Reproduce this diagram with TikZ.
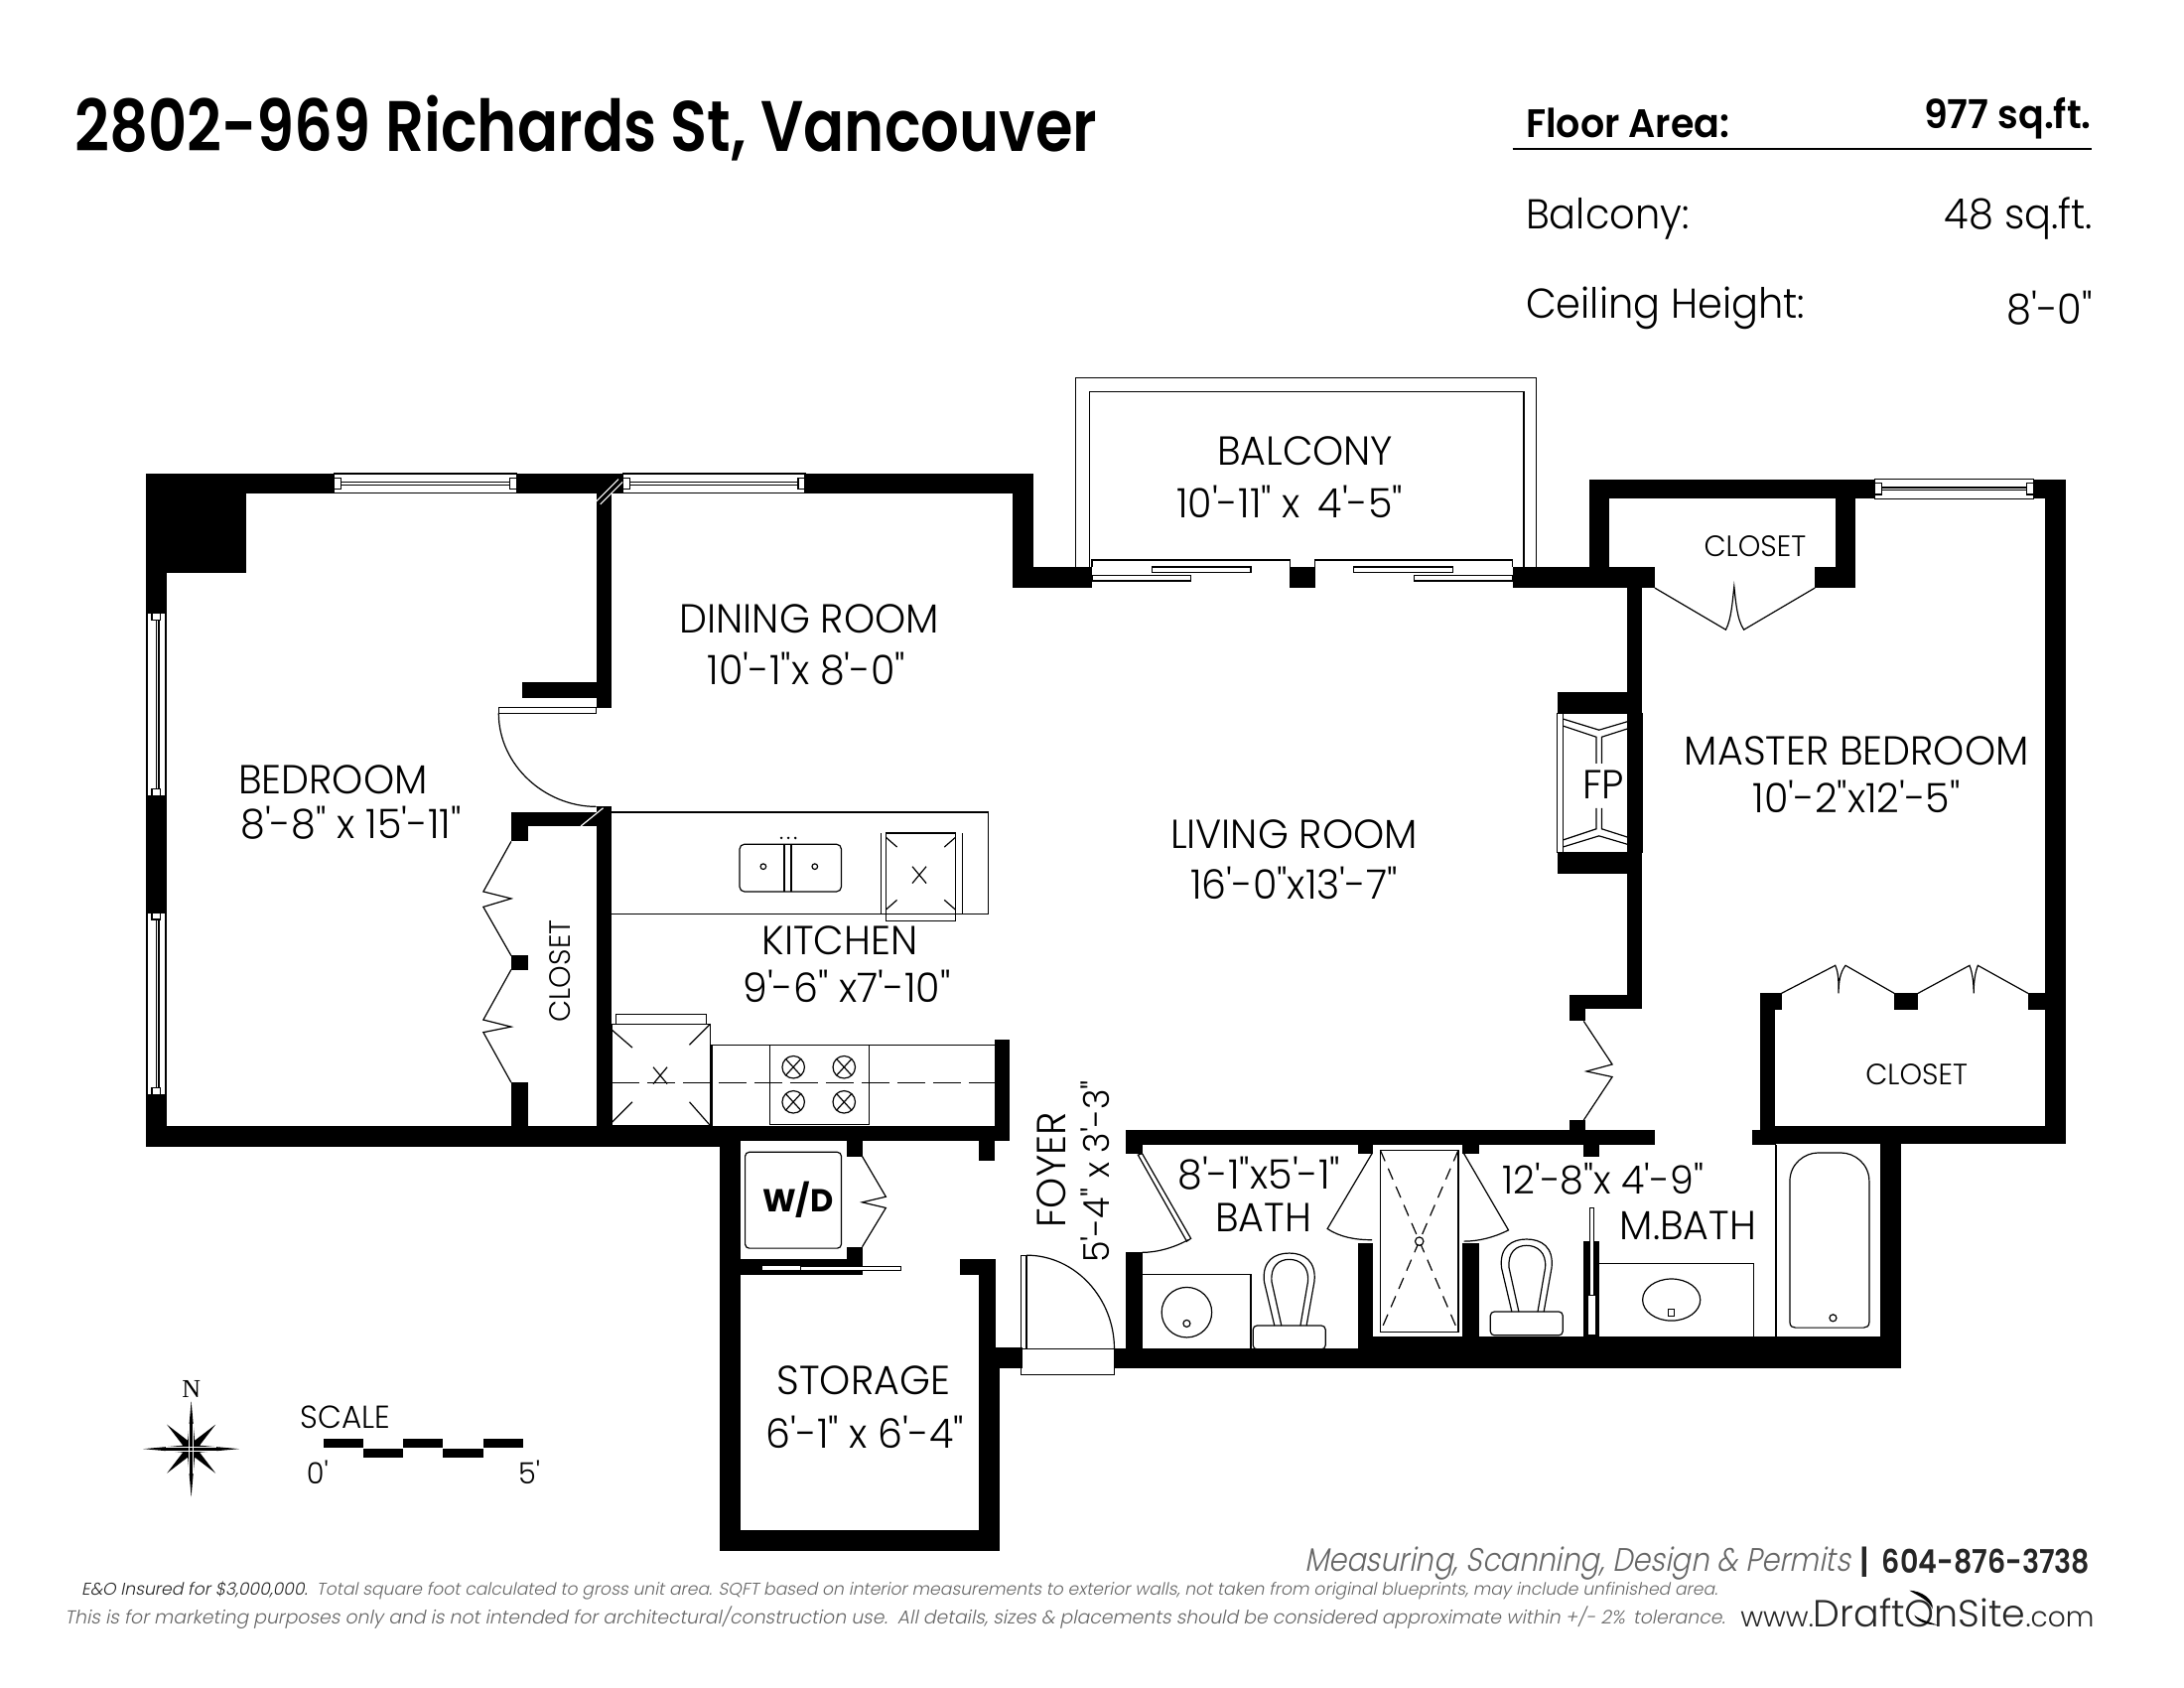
\documentclass[tikz,border=0pt]{standalone}
\usepackage{fontspec}
\setmainfont{Poppins}
\newfontfamily\titlefont[FakeStretch=0.845]{Poppins SemiBold}
\newfontfamily\headfont[FakeStretch=0.95]{Poppins SemiBold}
\newfontfamily\phonefont[FakeStretch=0.87]{Poppins SemiBold}
\newfontfamily\infofont[FakeStretch=0.95]{Poppins Light}
\newfontfamily\roomfont[FakeStretch=0.97]{Poppins Light}
\newfontfamily\tradesfont[FakeStretch=0.88,FakeSlant=0.2]{Poppins Light}
\newfontfamily\finefont[FakeSlant=0.2]{Poppins Light}
\newfontfamily\webfont{Poppins Light}
\newfontfamily\northfont{Liberation Serif}

\newcommand{\hwindow}[3]{
\draw[fixture, fill=white] (#1,#3) rectangle (#2,#3+14);
\draw[fixture] (#1,#3+6) -- (#2,#3+6) (#1,#3+8) -- (#2,#3+8);
\draw[fixture, fill=white] (#1,#3+3) rectangle (#1+5,#3+11);
\draw[fixture, fill=white] (#2-5,#3+3) rectangle (#2,#3+11);
}
\newcommand{\vwindow}[2]{
\draw[fixture, fill=white] (106,#1) rectangle (119,#2);
\draw[fixture] (112,#1) -- (112,#2) (114,#1) -- (114,#2);
\draw[fixture, fill=white] (109,#1) rectangle (115,#1+5);
\draw[fixture, fill=white] (109,#2-5) rectangle (115,#2);
}

\begin{document}
\begin{tikzpicture}[
x=0.35077pt, y=-0.35077pt,
wall/.style={fill=black},
fixture/.style={draw=black, line width=0.3pt},
room/.style={font=\roomfont\fontsize{10.2}{12}\selectfont, inner sep=0pt},
small room/.style={font=\roomfont\fontsize{7.4}{9}\selectfont, inner sep=0pt},
info/.style={font=\infofont\fontsize{10.5}{12}\selectfont, inner sep=0pt},
toilet/.pic={
	\draw[fixture, rounded corners=1pt] (-26,51.5) rectangle (26,68.5);
	\draw[fixture] (-10.6,51.5) -- (-18,20) .. controls (-19.6,5) and (-10.6,-0.5) .. (0,-0.5) .. controls (10.6,-0.5) and (19.6,5) .. (18,20) -- (12.4,51.5);
	\draw[fixture] (-5.6,51.5) -- (-12.6,20) .. controls (-13.6,9) and (-7.6,4) .. (0,4) .. controls (7.6,4) and (14.4,9) .. (13.4,20) -- (8,51.5);
},
]
\useasboundingbox (0,0) rectangle (1568,1211.6);

% walls, bedroom and dining side
\fill[wall] (105,340) rectangle (742,354);
\fill[wall] (105,340) rectangle (177,411);
\fill[wall] (105,340) rectangle (120,823);
\fill[wall] (105,808) rectangle (517,823);
\fill[wall] (517,808) rectangle (725,819);
\fill[wall] (428,354) rectangle (439,508);
\fill[wall] (375,490) rectangle (428,501);
\fill[wall] (367,583) rectangle (428,593);
\fill[wall] (367,583) rectangle (379,604);
\fill[wall] (428,579) rectangle (439,808);
\fill[wall] (367,686) rectangle (379,696);
\fill[wall] (367,777) rectangle (379,808);
\fill[wall] (714,746) rectangle (725,819);
\fill[wall] (727,340) rectangle (742,422);
\fill[wall] (727,407) rectangle (784,422);
\fill[wall] (926,407) rectangle (944,422);
\fill[wall] (1086,407) rectangle (1188,422);
% walls, master bedroom
\fill[wall] (1141,344) rectangle (1155,407);
\fill[wall] (1141,344) rectangle (1483,358);
\fill[wall] (1318,358) rectangle (1332,408);
\fill[wall] (1303,407) rectangle (1332,422);
\fill[wall] (1168,422) rectangle (1179,724);
\fill[wall] (1118,497) rectangle (1179,512);
\fill[wall] (1118,612) rectangle (1179,627);
\fill[wall] (1127,714) rectangle (1179,724);
\fill[wall] (1127,714) rectangle (1138,733);
\fill[wall] (1127,804) rectangle (1138,811);
\fill[wall] (1468,344) rectangle (1483,821);
\fill[wall] (1264,713) rectangle (1279,725);
\fill[wall] (1264,713) rectangle (1274.5,822);
\fill[wall] (1360,713) rectangle (1377,725);
\fill[wall] (1456,713) rectangle (1468,725);
\fill[wall] (1264,808) rectangle (1483,821);
\fill[wall] (1258,811) rectangle (1275,822);
\fill[wall] (1350,808) rectangle (1365,982);
% walls, baths
\fill[wall] (808,811) rectangle (1188,822);
\fill[wall] (808,811) rectangle (820,828);
\fill[wall] (808,899) rectangle (820,968);
\fill[wall] (975,822) rectangle (986,828);
\fill[wall] (975,892) rectangle (986,968);
\fill[wall] (1050,822) rectangle (1062,828);
\fill[wall] (1050,892) rectangle (1062,959);
\fill[wall] (1137,822) rectangle (1148,830);
\fill[wall] (1137,891) rectangle (1148,959);
\fill[wall] (800,968) rectangle (1365,982);
\fill[wall] (986,959) rectangle (1365,982);
% walls, storage and foyer
\fill[wall] (714,967) rectangle (734,982);
\fill[wall] (703,904) rectangle (715,968);
\fill[wall] (689,904) rectangle (715,915);
\fill[wall] (703,968) rectangle (718,1113);
\fill[wall] (517,819) rectangle (532,1113);
\fill[wall] (517,1098) rectangle (718,1113);
\fill[wall] (532,904) rectangle (619,915);
\fill[wall] (608,819) rectangle (619,830);
\fill[wall] (608,895) rectangle (619,904);
\fill[wall] (703,819) rectangle (714,833);

% windows
\hwindow{240}{371}{340}
\hwindow{447}{578}{340}
\hwindow{1346}{1460}{344}
\vwindow{440}{571}
\vwindow{655}{786}
\draw[white, line width=0.3pt] (428,360) -- (444,344) (431,362) -- (447,346);
\draw[white, line width=0.3pt] (417,593) -- (433,580);

% balcony
\draw[fixture] (772,407) -- (772,271) -- (1103,271) -- (1103,407);
\draw[fixture] (782,407) -- (782,281) -- (1094,281) -- (1094,407);
\draw[fixture] (784,407) -- (784,402) -- (926,402) -- (926,407);
\draw[fixture] (944,407) -- (944,402) -- (1086,402) -- (1086,407);
\draw[fixture] (827,407) rectangle (898,411);
\draw[fixture] (784,413) rectangle (855,417);
\draw[fixture] (972,407) rectangle (1043,411);
\draw[fixture] (1015,413) rectangle (1086,417);

% doors
\draw[fixture] (358,508) rectangle (428,512);
\draw[fixture] (358,512) .. controls (358,549) and (391,579) .. (428,579);
\draw[fixture] (733,901) rectangle (737,968);
\draw[fixture] (737,901) .. controls (772,901) and (800,932) .. (800,968);
\draw[fixture] (733,968) rectangle (800,987);
\draw[fixture] (817,829) -- (820,828) -- (855,889) -- (852,891) -- cycle;
\draw[fixture] (853,890) .. controls (842,896) and (830,899) .. (820,899);
\draw[fixture] (985,828) -- (953,882) .. controls (962,888) and (973,890) .. (985,890);
\draw[fixture] (1051,828) -- (1083,883) .. controls (1073,888) and (1062,891) .. (1051,891);
\fill[white] (1140.5,930) rectangle (1145,958);
\draw[fixture, fill=white] (1141.4,867) rectangle (1144,930);
\draw[fixture, fill=white] (547,908) rectangle (575,912);
\draw[fixture, fill=white] (575,909) rectangle (647,912);

% folding doors
\draw[fixture] (367,604) -- (347,640) -- (367,645) -- (347,651) -- (367,686);
\draw[fixture] (367,696) -- (347,732) -- (367,737) -- (347,741) -- (367,777);
\draw[fixture] (619,830) -- (636,859) -- (619,863) -- (636,867) -- (619,895);
\draw[fixture] (1137,733) -- (1157.5,764) -- (1139,769) -- (1157.5,773) -- (1137,804);
\draw[fixture] (1188,422) -- (1239,452) .. controls (1243,445) and (1244,430) .. (1245,421) .. controls (1246,430) and (1247,445) .. (1252,452) -- (1303,422);
\draw[fixture] (1279,713) -- (1317.6,693) .. controls (1320,698) and (1320,705) .. (1320,713) .. controls (1320,705) and (1321,698) .. (1325,693) -- (1360,713);
\draw[fixture] (1377,713) -- (1414,693) .. controls (1416,698) and (1417,705) .. (1417,713) .. controls (1417,705) and (1418,698) .. (1420,693) -- (1456,713);

% kitchen
\draw[fixture] (439,583) -- (709.5,583) -- (709.5,656) -- (439,656);
\draw[fixture, rounded corners=1.2pt] (531,606) rectangle (604,640);
\draw[fixture] (563,606) -- (563,640) (568,606) -- (568,640);
\draw[fixture] (548,622) circle [radius=2];
\draw[fixture] (585,622) circle [radius=2];
\fill (561,601.5) circle [radius=1] (566,601.5) circle [radius=1] (571,601.5) circle [radius=1];
\draw[fixture] (636,598) rectangle (686,661);
\draw[fixture] (632.6,598) -- (632.6,656) (691,598) -- (691,656);
\draw[fixture] (655,622) -- (665,634) (665,622) -- (655,634);
\draw[fixture] (636,601) -- (644,608) (686,601) -- (678,608) (636,653) -- (644,646) (686,653) -- (678,646);
\draw[fixture] (439,735) rectangle (510,808);
\draw[fixture] (442.5,735) -- (442.5,728) -- (507,728) -- (507,735);
\draw[fixture] (439,739) -- (454,752) (510,735) -- (495,750) (439,806) -- (454,791) (510,808) -- (495,791);
\draw[fixture] (469,766) -- (479,778) (479,766) -- (469,778);
\draw[fixture] (511,808) -- (511,750) -- (714,750);
\draw[fixture] (552.5,750) rectangle (624,807);
\draw[fixture, dash pattern=on 7pt off 2pt] (439,777) -- (714,777);
\draw[fixture] (569.6,766) circle [radius=8] (606,766) circle [radius=8] (569.6,791) circle [radius=8] (606,791) circle [radius=8];
\draw[fixture] (564,760) -- (575,772) (575,760) -- (564,772) (600.5,760) -- (611.5,772) (611.5,760) -- (600.5,772);
\draw[fixture] (564,785) -- (575,797) (575,785) -- (564,797) (600.5,785) -- (611.5,797) (611.5,785) -- (600.5,797);
\draw[fixture, rounded corners=1pt] (535,827) rectangle (604,896);

% fireplace
\draw[fixture] (1118,512) rectangle (1179,612);
\draw[fixture] (1122,512) -- (1122,612) (1175,512) -- (1175,612);
\draw[fixture] (1122,516) -- (1148,524) -- (1175,516) (1122,521) -- (1146,529) -- (1146,548) (1175,521) -- (1150,529) -- (1150,548);
\draw[fixture] (1122,608) -- (1148,600) -- (1175,608) (1122,603) -- (1146,595) -- (1146,580) (1175,603) -- (1150,595) -- (1150,580);

% bath fixtures
\draw[fixture] (820,915) -- (898,915) -- (898,968);
\draw[fixture] (852,942) circle [radius=18];
\draw[fixture] (852,950) circle [radius=2.5];
\pic at (925.6,900) {toilet};
\draw[fixture, fill=white] (991,825.6) rectangle (1047,956);
\draw[fixture, densely dashed] (991,825.6) -- (1047,956) (1047,825.6) -- (991,956);
\draw[fixture, fill=white] (1019,891) circle [radius=3];
\pic at (1096,890) {toilet};
\draw[fixture] (1148,907) -- (1259,907) -- (1259,959);
\draw[fixture] (1200,933) ellipse [x radius=20.7, y radius=15];
\draw[fixture] (1198,940) rectangle (1202,945);
\draw[fixture] (1275,822) -- (1275,959);
\draw[fixture] (1285,949) -- (1285,848) .. controls (1285,835) and (1296,827.5) .. (1305,827.5) -- (1322,827.5) .. controls (1331,827.5) and (1342,835) .. (1342,848) -- (1342,949) .. controls (1342,952) and (1340,953) .. (1338,953) -- (1289,953) .. controls (1287,953) and (1285,952) .. (1285,949) -- cycle;
\draw[fixture] (1316,946) circle [radius=2.5];

% heading
\node[font=\titlefont\fontsize{18}{20}\selectfont, inner sep=0pt, anchor=west] (title) at (53,92) {2802-969 Richards St, Vancouver};
\node[font=\headfont\fontsize{10}{12}\selectfont, inner sep=0pt, anchor=west] (area) at (1095,88) {Floor Area:};
\node[font=\headfont\fontsize{10}{12}\selectfont, inner sep=0pt, anchor=east] (areaval) at (1502,85) {977 sq.ft.};
\coordinate (ruleleft) at (1086,107);
\coordinate (ruleright) at (1502,107);
\draw[line width=0.4pt] (ruleleft) -- (ruleright);
\node[info, anchor=west] (balc) at (1095,157) {Balcony:};
\node[info, anchor=east] (balcval) at (1503,157) {48 sq.ft.};
\node[info, anchor=west] (ceil) at (1095,221) {Ceiling Height:};
\node[info, anchor=east] (ceilval) at (1503,221) {8'-0"};

% room labels
\node[room] (balconyname) at (937,324) {BALCONY};
\node[room] (balconysize) at (926,360) {10'-11" x\, 4'-5"};
\node[room] (diningname) at (581,444) {DINING ROOM};
\node[room] (diningsize) at (579,480) {10'-1"x 8'-0"};
\node[room] (bedname) at (239,560) {BEDROOM};
\node[room] (bedsize) at (252,591) {8'-8" x\;15'-11"};
\node[room] (livingname) at (929,599) {LIVING ROOM};
\node[room] (livingsize) at (929,634) {16'-0"x13'-7"};
\node[room] (kitchenname) at (603,675) {KITCHEN};
\node[room] (kitchensize) at (608,708) {9'-6" x7'-10"};
\node[room] (mastername) at (1333,539) {MASTER BEDROOM};
\node[room] (mastersize) at (1333,572) {10'-2"x12'-5"};
\node[room] (fp) at (1151,563) {FP};
\node[small room] (closeta) at (1260,392) {CLOSET};
\node[small room] (closetb) at (1376,771) {CLOSET};
\node[small room, rotate=90] (closetc) at (402,697) {CLOSET};
\node[font=\bfseries\fontsize{8}{10}\selectfont, inner sep=0pt] (wd) at (573,861) {W/D};
\node[room, rotate=90] (foyername) at (755,840) {FOYER};
\node[room, rotate=90, font=\roomfont\fontsize{9}{11}\selectfont] (foyersize) at (786,841) {5'-4" x 3'-3"};
\node[room] (bathsize) at (904,842) {8'-1"x5'-1"};
\node[room] (bathname) at (907,874) {BATH};
\node[room, font=\roomfont\fontsize{9.8}{12}\selectfont] (mbathsize) at (1151,846) {12'-8"x 4'-9"};
\node[room] (mbathname) at (1212,880) {M.BATH};
\node[room] (storagename) at (620,991) {STORAGE};
\node[room] (storagesize) at (621,1028) {6'-1" x 6'-4"};

% compass and scale
\node[font=\northfont\fontsize{6.5}{8}\selectfont, inner sep=0pt] (north) at (137.3,997) {N};
\begin{scope}[shift={(137.3,1040)}]
\fill (0,-34.5) -- (2.5,-6) -- (17.5,-17.5) -- (6,-2.5) -- (34.5,0) -- (6,2.5) -- (17.5,17.5) -- (2.5,6) -- (0,34.5) -- (-2.5,6) -- (-17.5,17.5) -- (-6,2.5) -- (-34.5,0) -- (-6,-2.5) -- (-17.5,-17.5) -- (-2.5,-6) -- cycle;
\draw[white, line width=0.25pt] (-1.5,-18) -- (-1.5,18) (1.5,-18) -- (1.5,18) (-18,-1.5) -- (18,-1.5) (-18,1.5) -- (18,1.5);
\end{scope}
\node[font=\roomfont\fontsize{8}{10}\selectfont, inner sep=0pt] (scalename) at (248,1017) {SCALE};
\fill (232.4,1033) rectangle (261,1039);
\fill (261,1040) rectangle (289.5,1046);
\fill (289.5,1033) rectangle (318,1039);
\fill (318,1040) rectangle (347,1046);
\fill (347,1033) rectangle (375.4,1039);
\node[small room] (scalezero) at (228,1057) {0'};
\node[small room] (scalefive) at (380,1057) {5'};

% footer
\node[font=\tradesfont\fontsize{8.2}{10}\selectfont, text=black!60, inner sep=0pt, anchor=east] (trades) at (1329,1122) {Measuring, Scanning, Design \& Permits};
\node[font=\headfont\fontsize{8.2}{10}\selectfont, text=black!85, inner sep=0pt] (pipe) at (1339,1121) {|};
\node[font=\phonefont\fontsize{8.2}{10}\selectfont, text=black!85, inner sep=0pt, anchor=east] (phone) at (1501,1121) {604-876-3738};
\node[font=\finefont\fontsize{4.3}{6}\selectfont, text=black!60, inner sep=0pt, anchor=west] (disclaima) at (58,1142) {\textcolor{black!85}{E\&O Insured for \$3,000,000.}\, Total square foot calculated to gross unit area. SQFT based on interior measurements to exterior walls, not taken from original blueprints, may include unfinished area.};
\node[font=\finefont\fontsize{4.7}{6}\selectfont, text=black!60, inner sep=0pt, anchor=west] (disclaimb) at (46,1161) {This is for marketing purposes only and is not intended for architectural/construction use.\, All details, sizes \& placements should be considered approximate within +/- 2\%\, tolerance.};
\node[font=\webfont\fontsize{7}{10}\selectfont, text=black!85, inner sep=0pt, anchor=east] (website) at (1504,1158) {www.{\fontsize{9.5}{12}\selectfont DraftOnSite}.com};
\fill (1370.8,1141.6) .. controls (1380,1142) and (1388,1148) .. (1387.5,1154.7) .. controls (1384,1148) and (1378,1146) .. (1370.8,1141.6);
\fill (1391,1166.5) .. controls (1383,1166) and (1376,1164) .. (1374.4,1159.4) .. controls (1379,1163) and (1385,1164) .. (1391,1166.5);
\end{tikzpicture}
\end{document}
